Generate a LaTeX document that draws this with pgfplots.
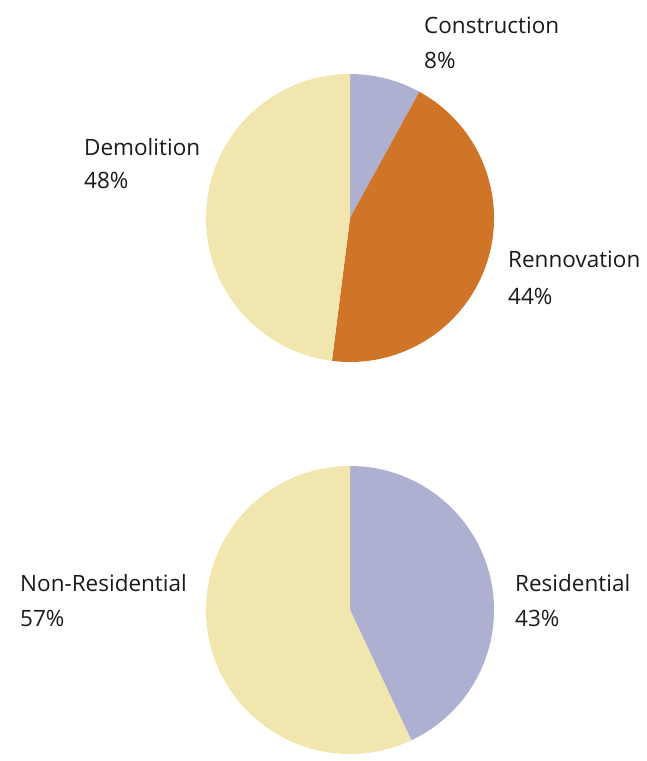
\documentclass[border=0pt]{standalone}
\usepackage{pgfplots}
\pgfplotsset{compat=1.18}
\usepackage{fontspec}
\setmainfont{Open Sans}

\definecolor{lav}{HTML}{ADB0D1}
\definecolor{orng}{HTML}{D07428}
\definecolor{pale}{HTML}{F0E6AE}
\definecolor{txt}{HTML}{1A1A1A}

% pie: 1 unit = 144pt, slices clockwise from the top
\pgfplotsset{pie/.style={scale only axis, width=288pt, height=288pt,
  xmin=-1, xmax=1, ymin=-1, ymax=1, hide axis, anchor=center}}

\begin{document}
\begin{tikzpicture}[x=1pt, y=1pt]
\useasboundingbox (0,0) rectangle (646,761);

% top pie: Construction 8, Rennovation 44, Demolition 48
\begin{axis}[pie, at={(350pt,543pt)}]
  \fill[lav]  (axis cs:0,0) -- ++(90:144pt)
    arc[start angle=90, delta angle={-3.6*8}, radius=144pt] -- cycle;
  \fill[orng] (axis cs:0,0) -- ++({90-3.6*8}:144pt)
    arc[start angle={90-3.6*8}, delta angle={-3.6*44}, radius=144pt] -- cycle;
  \fill[pale] (axis cs:0,0) -- ++({90-3.6*52}:144pt)
    arc[start angle={90-3.6*52}, delta angle={-3.6*48}, radius=144pt] -- cycle;
\end{axis}

% bottom pie: Residential 43, Non-Residential 57
\begin{axis}[pie, at={(350pt,151pt)}]
  \fill[lav]  (axis cs:0,0) -- ++(90:144pt)
    arc[start angle=90, delta angle={-3.6*43}, radius=144pt] -- cycle;
  \fill[pale] (axis cs:0,0) -- ++({90-3.6*43}:144pt)
    arc[start angle={90-3.6*43}, delta angle={-3.6*57}, radius=144pt] -- cycle;
\end{axis}

\begin{scope}[every node/.style={anchor=base west, inner sep=0pt, text=txt,
    font=\fontsize{22.5}{27}\selectfont}]
  \node at (424,727) {Construction};
  \node at (424,692) {8\%};
  \node at (84,605) {Demolition};
  \node at (84,572) {48\%};
  \node at (508,493) {Rennovation};
  \node at (508,456) {44\%};
  \node at (20,169) {Non-Residential};
  \node at (20,134) {57\%};
  \node at (515,169) {Residential};
  \node at (515,134) {43\%};
\end{scope}
\end{tikzpicture}
\end{document}
